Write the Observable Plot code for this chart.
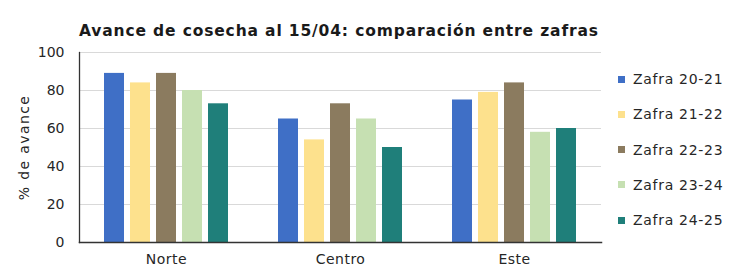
<!DOCTYPE html>
<html>
<head>
<meta charset="utf-8">
<script src="https://cdn.jsdelivr.net/npm/d3@7"></script>
<script src="https://cdn.jsdelivr.net/npm/@observablehq/plot@0.6"></script>
<style>
  html, body { margin: 0; padding: 0; background: #fff; }
  #wrap { position: relative; width: 750px; height: 273px; font-family: "DejaVu Sans", sans-serif; color: #333; }
  #title { position: absolute; left: 79px; top: 22px; font-weight: bold; font-size: 15.5px; letter-spacing: 0.85px; color: #1a1a1a; white-space: nowrap; }
  .leg { position: absolute; left: 618px; font-size: 14px; letter-spacing: 0.7px; color: #262626; white-space: nowrap; display: flex; align-items: center; }
  .sw { width: 7px; height: 7px; margin-right: 8px; }
  g[aria-label="y-axis label"] text { letter-spacing: 1.4px; }
  g[aria-label="fx-axis tick label"] text { letter-spacing: 0.5px; }
</style>
</head>
<body>
<div id="wrap">
  <div id="title">Avance de cosecha al 15/04: comparación entre zafras</div>
</div>
<script>
const regions = ["Norte", "Centro", "Este"];
const series = ["Zafra 20-21", "Zafra 21-22", "Zafra 22-23", "Zafra 23-24", "Zafra 24-25"];
const norte = [89, 84, 89, 80, 73];
const centro = [65, 54, 73, 65, 50];
const este = [75, 79, 84, 58, 60];
const colors = ["#3f6fc6", "#fde18d", "#8b7b5f", "#c6e0b2", "#1f7f7a"];
const yTicks = [0, 20, 40, 60, 80, 100];
const yLabel = "% de avance";

const byRegion = [norte, centro, este];
const data = regions.flatMap((r, i) => series.map((s, j) => ({region: r, zafra: s, value: byRegion[i][j]})));

const chart = Plot.plot({
  width: 750,
  height: 273,
  marginTop: 52,
  marginBottom: 31,
  marginLeft: 78,
  marginRight: 148,
  style: {fontFamily: "DejaVu Sans, sans-serif", fontSize: "14px", color: "#262626", background: "transparent"},
  fx: {domain: regions, padding: 0, label: null, axis: null},
  x: {domain: series, paddingInner: 0.215, paddingOuter: 0.873, axis: null},
  y: {domain: [0, 100], axis: null},
  color: {domain: series, range: colors},
  marks: [
    Plot.gridY({ticks: yTicks.slice(1), stroke: "#d9d9d9", strokeOpacity: 1, strokeWidth: 1.2}),
    Plot.barY(data, {fx: "region", x: "zafra", y: "value", fill: "zafra"}),
    Plot.axisFx({anchor: "bottom", tickSize: 0, tickPadding: 12, fontSize: 14, label: null}),
    Plot.axisY({ticks: yTicks, tickSize: 0, tickPadding: 15, fontSize: 14,
      label: yLabel, labelAnchor: "center", labelOffset: 60, labelArrow: "none"}),
    Plot.frame({facet: "super", anchor: "left", stroke: "#333", strokeWidth: 1.3}),
    Plot.frame({facet: "super", anchor: "bottom", stroke: "#333", strokeWidth: 1.5})
  ]
});
chart.style.position = "absolute";
chart.style.left = "0";
chart.style.top = "0";
const wrap = document.getElementById("wrap");
wrap.appendChild(chart);
wrap.appendChild(document.getElementById("title"));

const legTop = 80, legStep = 35.3;
series.forEach((s, i) => {
  const d = document.createElement("div");
  d.className = "leg";
  d.style.top = (legTop + i * legStep - 9) + "px";
  const sw = document.createElement("span");
  sw.className = "sw";
  sw.style.background = colors[i];
  const t = document.createElement("span");
  t.textContent = s;
  d.appendChild(sw);
  d.appendChild(t);
  wrap.appendChild(d);
});
</script>
</body>
</html>
